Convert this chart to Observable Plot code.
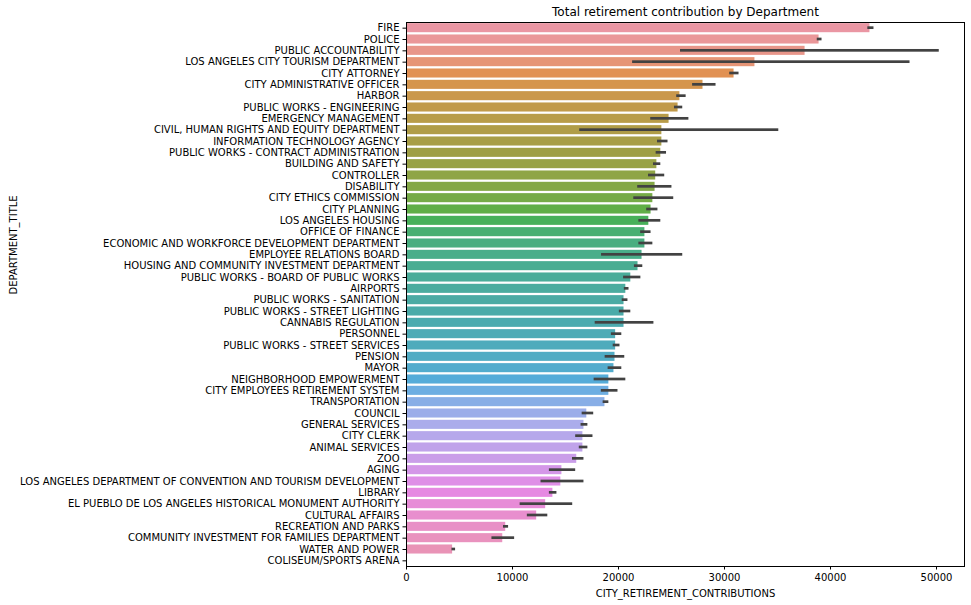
<!DOCTYPE html>
<html>
<head>
<meta charset="utf-8">
<script src="https://cdn.jsdelivr.net/npm/d3@7"></script>
<script src="https://cdn.jsdelivr.net/npm/@observablehq/plot@0.6"></script>
<style>
  html, body { margin: 0; padding: 0; background: #ffffff; }
  #chart { width: 971px; height: 605px; }
</style>
</head>
<body>
<div id="chart"></div>
<script>
const departments = [
  "FIRE", "POLICE", "PUBLIC ACCOUNTABILITY", "LOS ANGELES CITY TOURISM DEPARTMENT",
  "CITY ATTORNEY", "CITY ADMINISTRATIVE OFFICER", "HARBOR", "PUBLIC WORKS - ENGINEERING",
  "EMERGENCY MANAGEMENT", "CIVIL, HUMAN RIGHTS AND EQUITY DEPARTMENT", "INFORMATION TECHNOLOGY AGENCY",
  "PUBLIC WORKS - CONTRACT ADMINISTRATION", "BUILDING AND SAFETY", "CONTROLLER", "DISABILITY",
  "CITY ETHICS COMMISSION", "CITY PLANNING", "LOS ANGELES HOUSING", "OFFICE OF FINANCE",
  "ECONOMIC AND WORKFORCE DEVELOPMENT DEPARTMENT", "EMPLOYEE RELATIONS BOARD",
  "HOUSING AND COMMUNITY INVESTMENT DEPARTMENT", "PUBLIC WORKS - BOARD OF PUBLIC WORKS", "AIRPORTS",
  "PUBLIC WORKS - SANITATION", "PUBLIC WORKS - STREET LIGHTING", "CANNABIS REGULATION", "PERSONNEL",
  "PUBLIC WORKS - STREET SERVICES", "PENSION", "MAYOR", "NEIGHBORHOOD EMPOWERMENT",
  "CITY EMPLOYEES RETIREMENT SYSTEM", "TRANSPORTATION", "COUNCIL", "GENERAL SERVICES", "CITY CLERK",
  "ANIMAL SERVICES", "ZOO", "AGING", "LOS ANGELES DEPARTMENT OF CONVENTION AND TOURISM DEVELOPMENT",
  "LIBRARY", "EL PUEBLO DE LOS ANGELES HISTORICAL MONUMENT AUTHORITY", "CULTURAL AFFAIRS",
  "RECREATION AND PARKS", "COMMUNITY INVESTMENT FOR FAMILIES DEPARTMENT", "WATER AND POWER",
  "COLISEUM/SPORTS ARENA"
];
const meanValues = [
  43720, 38920, 37600, 32870, 30900, 27970, 25790, 25620, 24770, 24090, 24090, 23990,
  23620, 23510, 23450, 23240, 23070, 22860, 22490, 22490, 22220, 21840, 21160, 20690,
  20520, 20520, 20520, 19730, 19730, 19670, 19570, 19090, 19090, 18720, 17010, 16740,
  16640, 16640, 16060, 14660, 14560, 13810, 13130, 12280, 9360, 9080, 4350, null
];
const ciLow = [
  43520, 38750, 25850, 21330, 30490, 26990, 25490, 25280, 23040, 16340, 23680, 23550,
  23300, 22830, 21810, 21440, 22660, 21920, 22090, 21920, 18400, 21500, 20480, 20550,
  20350, 20080, 17800, 19330, 19500, 18740, 19020, 17700, 18380, 18550, 16570, 16470,
  15960, 16300, 15660, 13480, 12690, 13480, 10720, 11400, 9150, 8060, 4290, null
];
const ciHigh = [
  44100, 39200, 50260, 47500, 31370, 29200, 26380, 26060, 26640, 35120, 24670, 24530,
  23990, 24360, 25040, 25210, 23720, 23990, 23070, 23240, 26060, 22290, 22110, 20990,
  20890, 21160, 23340, 20310, 20140, 20590, 20310, 20690, 19950, 19090, 17660, 17110,
  17590, 17110, 16740, 15960, 16740, 14190, 15680, 13330, 9630, 10200, 4630, null
];
const xTicks = [0, 10000, 20000, 30000, 40000, 50000];
const xMax = 52640;
const titleText = "Total retirement contribution by Department";
const xLabel = "CITY_RETIREMENT_CONTRIBUTIONS";
const yLabel = "DEPARTMENT_TITLE";

// seaborn categorical husl palette (h=.01, s=.9, l=.7) desaturated by 0.75
const M = [[3.2406, -1.5372, -0.4986], [-0.9689, 1.8758, 0.0415], [0.0557, -0.2040, 1.0570]];
function maxChroma(L, H) {
  const hrad = H / 360 * 2 * Math.PI, sinH = Math.sin(hrad), cosH = Math.cos(hrad);
  const sub1 = Math.pow(L + 16, 3) / 1560896;
  const sub2 = sub1 > 0.008856 ? sub1 : L / 903.3;
  let result = Infinity;
  for (const [m1, m2, m3] of M) {
    const top = (0.99915 * m1 + 1.05122 * m2 + 1.14460 * m3) * sub2;
    const rb = 0.86330 * m3 - 0.17266 * m2;
    const lb = 0.12949 * m3 - 0.38848 * m1;
    const bottom = (rb * sinH + lb * cosH) * sub2;
    for (const t of [0, 1]) {
      const C = L * (top - 1.05122 * t) / (bottom + 0.17266 * sinH * t);
      if (C > 0 && C < result) result = C;
    }
  }
  return result;
}
function huslToRgb(H, S, L) {
  const C = maxChroma(L, H) / 100 * S;
  const hr = H / 360 * 2 * Math.PI;
  const U = Math.cos(hr) * C, V = Math.sin(hr) * C;
  const fy = (L + 16) / 116;
  const Y = Math.pow(fy, 3) > 0.008856 ? Math.pow(fy, 3) : (116 * fy - 16) / 903.3;
  const varU = U / (13 * L) + 0.19784, varV = V / (13 * L) + 0.46834;
  const X = -(9 * Y * varU) / ((varU - 4) * varV - varU * varV);
  const Z = (9 * Y - 15 * varV * Y - varV * X) / (3 * varV);
  return M.map(r => {
    let c = r[0] * X + r[1] * Y + r[2] * Z;
    c = c <= 0.0031308 ? 12.92 * c : 1.055 * Math.pow(c, 1 / 2.4) - 0.055;
    return Math.min(1, Math.max(0, c));
  });
}
function paletteColor(i, n) {
  let h = (i / n + 0.01) % 1;
  const [r, g, b] = huslToRgb(h * 359, 0.9 * 99, 0.7 * 99);
  const c = d3.hsl(d3.rgb(r * 255, g * 255, b * 255));
  c.s *= 0.75;
  return c.formatHex();
}

const rows = departments.map((d, i) => ({
  dept: d,
  mean: meanValues[i],
  lo: ciLow[i],
  hi: ciHigh[i],
  color: paletteColor(i, departments.length)
}));
const barRows = rows.filter(r => r.mean != null);
const errRows = rows.filter(r => r.lo != null);

const marginTop = 22, marginBottom = 39, marginLeft = 406, marginRight = 7;
const H = 605;
const bw = (H - marginTop - marginBottom) / departments.length * 0.8;
const errW = 2.7;
const inset = (bw - errW) / 2;

const chart = Plot.plot({
  width: 971,
  height: H,
  marginTop, marginBottom, marginLeft, marginRight,
  style: { fontFamily: "DejaVu Sans, sans-serif", fontSize: "10px", background: "#ffffff", color: "#000000" },
  x: { domain: [0, xMax], label: null },
  y: { domain: departments, paddingInner: 0.2, paddingOuter: 0.1, align: 0.5, round: false, label: null },
  color: { type: "identity" },
  marks: [
    Plot.barX(barRows, { y: "dept", x1: 0, x2: "mean", fill: "color" }),
    Plot.barX(errRows, { y: "dept", x1: "lo", x2: "hi", fill: "#424242", insetTop: inset, insetBottom: inset }),
    Plot.frame({ stroke: "#000000", strokeWidth: 1 }),
    Plot.axisY({ tickSize: 3.5, tickPadding: 3.5, label: null, fontSize: 10 }),
    Plot.axisX({ ticks: xTicks, tickSize: 3.5, tickPadding: 3.5, label: null, tickFormat: d => String(d), fontSize: 10 }),
    Plot.text([titleText], { text: d => d, frameAnchor: "top", dy: -10, lineAnchor: "middle", fontSize: 12 }),
    Plot.text([xLabel], { text: d => d, frameAnchor: "bottom", dy: 27, lineAnchor: "middle", fontSize: 10 }),
    Plot.text([yLabel], { text: d => d, frameAnchor: "left", dx: -393, rotate: -90, lineAnchor: "middle", fontSize: 10 })
  ]
});
document.getElementById("chart").appendChild(chart);
</script>
</body>
</html>
